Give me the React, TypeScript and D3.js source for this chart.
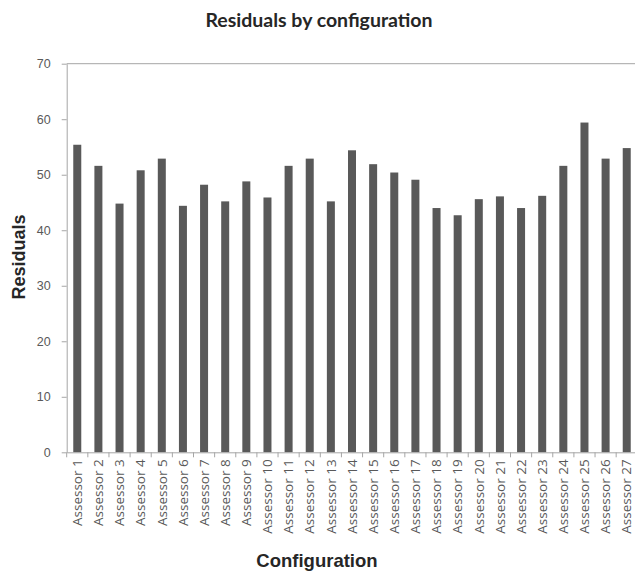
import React, { useEffect, useRef } from "react";
import * as d3 from "d3";

const assessors = [
  "Assessor 1", "Assessor 2", "Assessor 3", "Assessor 4", "Assessor 5",
  "Assessor 6", "Assessor 7", "Assessor 8", "Assessor 9", "Assessor 10",
  "Assessor 11", "Assessor 12", "Assessor 13", "Assessor 14", "Assessor 15",
  "Assessor 16", "Assessor 17", "Assessor 18", "Assessor 19", "Assessor 20",
  "Assessor 21", "Assessor 22", "Assessor 23", "Assessor 24", "Assessor 25",
  "Assessor 26", "Assessor 27",
];
const residuals = [
  55.4, 51.6, 44.8, 50.8, 52.9, 44.4, 48.2, 45.2, 48.8, 45.9,
  51.6, 52.9, 45.2, 54.4, 51.9, 50.4, 49.1, 44.0, 42.7, 45.6,
  46.1, 44.0, 46.2, 51.6, 59.4, 52.9, 54.8,
];
const yTicks = [0, 10, 20, 30, 40, 50, 60, 70];

const W = 635;
const H = 572;

const drawChart = (svgEl: SVGSVGElement) => {
  const svg = d3.select(svgEl);
  svg.selectAll("*").remove();

  const left = 66.7;
  const right = 637.3;
  const top = 63.7;
  const bottom = 452.3;

  const x = d3.scaleBand().domain(assessors).range([left, right]).paddingInner(0).paddingOuter(0);
  const y = d3.scaleLinear().domain([0, 70]).range([bottom, top]);

  // top border line
  svg.append("line")
    .attr("x1", left).attr("x2", right)
    .attr("y1", top).attr("y2", top)
    .attr("stroke", "#a6a6a6").attr("stroke-width", 1);

  // bars
  const barW = 8;
  svg.append("g")
    .selectAll("rect")
    .data(residuals)
    .enter()
    .append("rect")
    .attr("x", (d, i) => (x(assessors[i]) || 0) + x.bandwidth() / 2 - barW / 2)
    .attr("width", barW)
    .attr("y", (d) => y(d))
    .attr("height", (d) => bottom - y(d))
    .attr("fill", "#595959");

  // y axis
  const yAxis = svg.append("g")
    .attr("transform", `translate(${left},0)`)
    .call(d3.axisLeft(y).tickValues(yTicks).tickSize(5).tickPadding(11).tickSizeOuter(0));
  yAxis.select(".domain").attr("stroke", "#a6a6a6");
  yAxis.selectAll(".tick line").attr("stroke", "#a6a6a6");
  yAxis.selectAll(".tick text")
    .attr("fill", "#595959")
    .style("font-family", "Liberation Sans, Arial, sans-serif")
    .style("font-size", "12.5px");

  // x axis
  const xAxis = svg.append("g")
    .attr("transform", `translate(0,${bottom})`)
    .call(d3.axisBottom(x).tickSize(0).tickSizeOuter(0));
  xAxis.select(".domain").attr("stroke", "#a6a6a6");
  xAxis.selectAll(".tick text")
    .attr("transform", "rotate(-90)")
    .attr("x", -7)
    .attr("y", 0)
    .attr("dy", "0.35em")
    .attr("text-anchor", "end")
    .attr("fill", "#595959")
    .style("font-family", "Open Sans, sans-serif")
    .style("font-size", "13.5px");

  // tick marks at category boundaries
  const bounds = assessors.map((a) => x(a) || 0).concat([right]);
  svg.append("g")
    .selectAll("line")
    .data(bounds)
    .enter()
    .append("line")
    .attr("x1", (d) => d).attr("x2", (d) => d)
    .attr("y1", bottom).attr("y2", bottom + 5)
    .attr("stroke", "#a6a6a6");

  // title
  svg.append("text")
    .attr("x", 319).attr("y", 27)
    .attr("text-anchor", "middle")
    .attr("fill", "#262626")
    .style("font-family", "Lato, sans-serif")
    .style("font-weight", "bold")
    .style("font-size", "19.5px")
    .text("Residuals by configuration");

  svg.append("text")
    .attr("transform", "translate(25,257) rotate(-90)")
    .attr("text-anchor", "middle")
    .attr("fill", "#262626")
    .style("font-family", "Liberation Sans, Arial, sans-serif")
    .style("font-weight", "bold")
    .style("font-size", "18px")
    .text("Residuals");

  svg.append("text")
    .attr("x", 317).attr("y", 567)
    .attr("text-anchor", "middle")
    .attr("fill", "#262626")
    .style("font-family", "Liberation Sans, Arial, sans-serif")
    .style("font-weight", "bold")
    .style("font-size", "18.5px")
    .text("Configuration");
};

const App = () => {
  const ref = useRef<SVGSVGElement>(null);
  useEffect(() => {
    if (ref.current) drawChart(ref.current);
  }, []);
  return (
    <svg
      ref={ref}
      width={W}
      height={H}
      style={{ position: "absolute", left: 0, top: 0, background: "#fff" }}
    ></svg>
  );
};

export default App;
